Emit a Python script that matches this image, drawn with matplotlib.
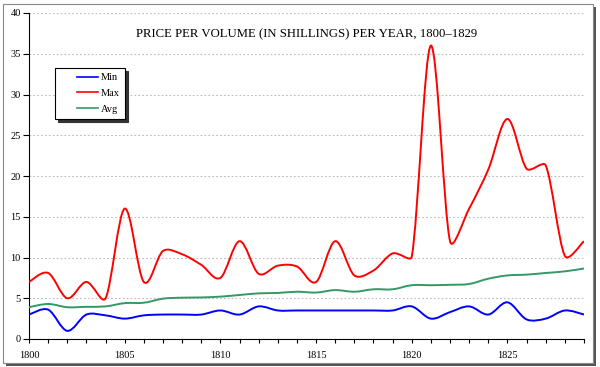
import numpy as np
import matplotlib
matplotlib.use('Agg')
from matplotlib import pyplot as plt
from matplotlib.path import Path
from matplotlib.patches import PathPatch, Rectangle
from matplotlib.lines import Line2D
from matplotlib.legend_handler import HandlerBase

# data
years = list(range(1800, 1830))
price_min = [3.0, 3.6, 1.0, 3.0, 2.9, 2.5, 2.9, 3.0, 3.0, 3.0,
             3.5, 3.0, 4.0, 3.5, 3.5, 3.5, 3.5, 3.5, 3.5, 3.5,
             4.0, 2.5, 3.3, 4.0, 3.0, 4.5, 2.4, 2.5, 3.5, 3.0]
price_max = [7.0, 8.1, 5.0, 7.0, 5.0, 16.0, 7.0, 10.8, 10.4, 9.1,
             7.5, 12.0, 8.0, 9.0, 8.9, 7.0, 12.0, 7.8, 8.4, 10.5,
             10.1, 36.0, 12.0, 16.0, 20.8, 27.0, 20.9, 21.3, 10.2, 12.0]
price_avg = [3.9, 4.3, 3.9, 3.95, 4.0, 4.4, 4.45, 4.95, 5.07, 5.1,
             5.2, 5.4, 5.6, 5.65, 5.8, 5.7, 6.0, 5.8, 6.1, 6.1,
             6.6, 6.6, 6.65, 6.75, 7.4, 7.8, 7.9, 8.1, 8.3, 8.65]

plt.rcParams['font.family'] = ['Liberation Serif', 'DejaVu Serif']

fig = plt.figure(figsize=(6, 3.67), dpi=100)

# frame with shadow round the chart
fig.patches.append(Rectangle((6/600, 1-366/367), 590/600, 359/367, transform=fig.transFigure,
                             facecolor='#555555', edgecolor='none', zorder=-2))
fig.patches.append(Rectangle((3/600, 1-363/367), 590/600, 359/367, transform=fig.transFigure,
                             facecolor='white', edgecolor='#888888', lw=0.8, zorder=-1))

ax = fig.add_axes([29/600, 1-339/367, 555/600, 326/367])
ax.set_facecolor('none')
ax.set_xlim(1800, 1829)
ax.set_ylim(0, 40)


def smooth_line(x, y, color):
    # excel-like smoothed line: bezier through each point, tangents worked out on screen
    pts = ax.transData.transform(np.column_stack([x, y]).astype(float))
    n = len(pts)
    verts = [pts[0]]
    codes = [Path.MOVETO]
    for i in range(n - 1):
        p0 = pts[max(i - 1, 0)]
        p1 = pts[i]
        p2 = pts[i + 1]
        p3 = pts[min(i + 2, n - 1)]
        seg = np.linalg.norm(p2 - p1)
        t1 = p2 - p0
        t2 = p3 - p1
        l1 = min(np.linalg.norm(t1) / 6, seg / 3)
        l2 = min(np.linalg.norm(t2) / 6, seg / 3)
        c1 = p1 + t1 / max(np.linalg.norm(t1), 1e-9) * l1
        c2 = p2 - t2 / max(np.linalg.norm(t2), 1e-9) * l2
        verts += [c1, c2, p2]
        codes += [Path.CURVE4] * 3
    verts = ax.transData.inverted().transform(np.array(verts))
    ax.add_patch(PathPatch(Path(verts, codes), facecolor='none', edgecolor=color, lw=1.4, zorder=3))


smooth_line(years, price_min, '#0000ff')
smooth_line(years, price_max, '#ff0000')
smooth_line(years, price_avg, '#339966')

ax.set_yticks(range(0, 41, 5))
ax.set_xticks(range(1800, 1830, 5))
ax.set_xticks(years, minor=True)
ax.tick_params(axis='y', direction='out', length=4, width=0.8, labelsize=7.5, pad=2)
ax.tick_params(axis='x', which='both', direction='out', length=3, width=0.8, labelsize=7.5, pad=6)
for spine in ['top', 'right']:
    ax.spines[spine].set_visible(False)
ax.spines['left'].set_linewidth(0.8)
ax.spines['bottom'].set_linewidth(0.8)

# dotted grid
for v in range(5, 41, 5):
    ax.axhline(v, color='#bbbbbb', lw=0.8, ls=(0, (1.5, 2)), zorder=1)

ax.text(0.5, 0.935, 'PRICE PER VOLUME (IN SHILLINGS) PER YEAR, 1800\u20131829',
        transform=ax.transAxes, ha='center', va='center', fontsize=9.2)


class ShortLine(HandlerBase):
    # legend key: short line on the right of the key box
    def create_artists(self, legend, orig_handle, xdescent, ydescent, width, height, fontsize, trans):
        y = height / 2 - ydescent
        line = Line2D([-xdescent + 0.45 * width, -xdescent + width], [y, y],
                      color=orig_handle.get_color(), lw=orig_handle.get_linewidth(), transform=trans)
        return [line]


handles = [Line2D([], [], color='#0000ff', lw=1.2),
           Line2D([], [], color='#ff0000', lw=1.2),
           Line2D([], [], color='#339966', lw=1.2)]
leg = ax.legend(handles, ['Min', 'Max', 'Avg'], loc='upper left',
                bbox_to_anchor=(26/555, (339-68)/326), fontsize=7.5,
                handler_map={Line2D: ShortLine()},
                fancybox=False, shadow={'color': '#333333', 'alpha': 1}, framealpha=1,
                edgecolor='black', handlelength=3.6, borderpad=0.5, labelspacing=0.6,
                borderaxespad=0, handletextpad=0.3)
leg.get_frame().set_linewidth(0.8)

plt.savefig('out.png', dpi=100)
